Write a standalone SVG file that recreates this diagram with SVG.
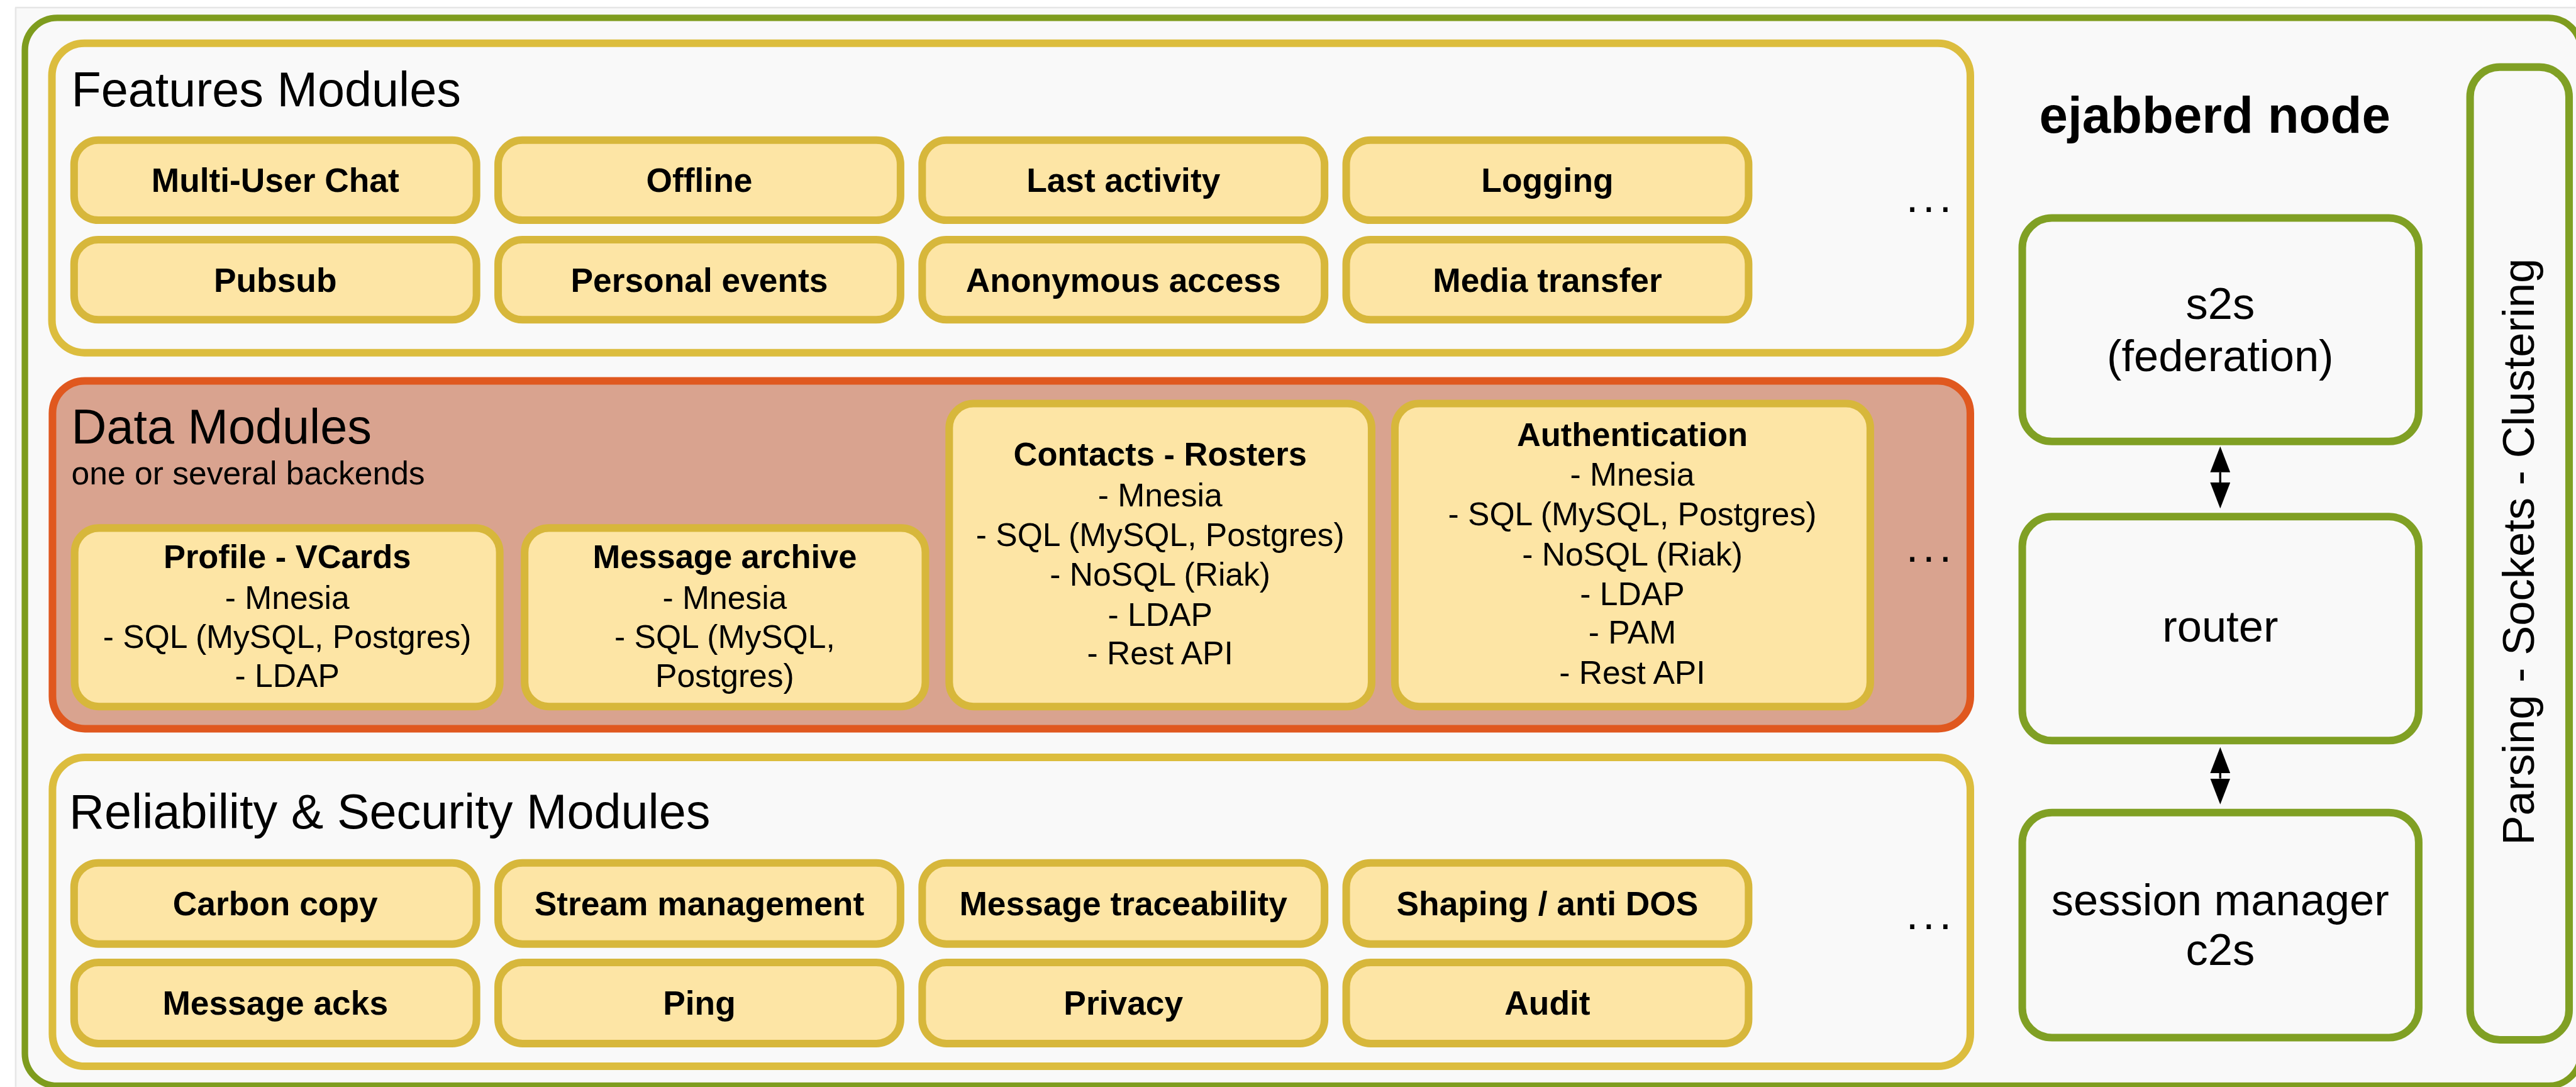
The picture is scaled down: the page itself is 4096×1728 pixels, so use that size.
<svg xmlns="http://www.w3.org/2000/svg" width="4096" height="1728" viewBox="0 0 4096 1728">
<style>
text{font-family:"Liberation Sans",Arial,Helvetica,sans-serif;fill:#000}
.title{font-size:90px}
.sub{font-size:60px}
.pilltxt{font-size:62px;font-weight:bold;text-anchor:middle}
.dtitle{font-size:61px;font-weight:bold;text-anchor:middle}
.ditem{font-size:60px;text-anchor:middle}
.rtxt{font-size:82px;text-anchor:middle}
.dots{font-size:82px;letter-spacing:8px}
.panel{fill:#f9f9f9;stroke:#dcbd3e;stroke-width:14}
.pill{fill:#fde5a5;stroke:#d7b73b;stroke-width:14}
.green{fill:#f9f9f9;stroke:#80a024;stroke-width:14}
.conn{stroke:#000;stroke-width:4;fill:none}
</style>
<defs>
<marker id="ah" viewBox="0 0 48 37" refX="0" refY="18.5" markerWidth="48" markerHeight="37" markerUnits="userSpaceOnUse" orient="auto-start-reverse">
<path d="M0,0 L48,18.5 L0,37 z" fill="#000"/>
</marker>
</defs>
<rect x="0" y="0" width="4096" height="1728" fill="#f9f9f9"/>
<g transform="scale(0.86)">
<rect x="0" y="0" width="4762" height="13" fill="#ffffff"/>
<line x1="0" y1="14" x2="4762" y2="14" stroke="#e6e6e6" stroke-width="3"/>
<rect x="0" y="0" width="28" height="2009" fill="#ffffff"/>
<line x1="29" y1="14" x2="29" y2="2009" stroke="#e6e6e6" stroke-width="3"/>

<g id="ejabberd-node">
<rect x="46" y="33" width="4726" height="1974" rx="60" fill="#f9f9f9" stroke="#7e9c1e" stroke-width="12"/>
<text x="4095" y="245" font-size="95" font-weight="bold" text-anchor="middle">ejabberd node</text>
</g>

<g id="features-modules">
<rect class="panel" x="96" y="80" width="3547" height="572" rx="60"/>
<text class="title" x="132" y="196">Features Modules</text>
<text class="dots" x="3524" y="392">...</text>
</g>
<g id="f-muc"><rect class="pill" x="137" y="259" width="744" height="148" rx="45"/><text class="pilltxt" x="509" y="355">Multi-User Chat</text></g>
<g id="f-offline"><rect class="pill" x="921" y="259" width="744" height="148" rx="45"/><text class="pilltxt" x="1293" y="355">Offline</text></g>
<g id="f-last"><rect class="pill" x="1705" y="259" width="744" height="148" rx="45"/><text class="pilltxt" x="2077" y="355">Last activity</text></g>
<g id="f-logging"><rect class="pill" x="2489" y="259" width="744" height="148" rx="45"/><text class="pilltxt" x="2861" y="355">Logging</text></g>
<g id="f-pubsub"><rect class="pill" x="137" y="443" width="744" height="148" rx="45"/><text class="pilltxt" x="509" y="539">Pubsub</text></g>
<g id="f-pep"><rect class="pill" x="921" y="443" width="744" height="148" rx="45"/><text class="pilltxt" x="1293" y="539">Personal events</text></g>
<g id="f-anon"><rect class="pill" x="1705" y="443" width="744" height="148" rx="45"/><text class="pilltxt" x="2077" y="539">Anonymous access</text></g>
<g id="f-media"><rect class="pill" x="2489" y="443" width="744" height="148" rx="45"/><text class="pilltxt" x="2861" y="539">Media transfer</text></g>

<g id="data-modules">
<rect x="97" y="704" width="3546" height="643" rx="60" fill="#d9a38f" stroke="#e0581f" stroke-width="14"/>
<text class="title" x="132" y="820">Data Modules</text>
<text class="sub" x="132" y="895">one or several backends</text>
<text class="dots" x="3524" y="1038">...</text>
</g>
<g id="d-vcard"><rect class="pill" x="138" y="976" width="786" height="330" rx="45"/>
<text class="dtitle" x="531" y="1050">Profile - VCards</text>
<text class="ditem" x="531" y="1125">- Mnesia</text>
<text class="ditem" x="531" y="1198">- SQL (MySQL, Postgres)</text>
<text class="ditem" x="531" y="1270">- LDAP</text></g>
<g id="d-archive"><rect class="pill" x="970" y="976" width="741" height="330" rx="45"/>
<text class="dtitle" x="1340" y="1050">Message archive</text>
<text class="ditem" x="1340" y="1125">- Mnesia</text>
<text class="ditem" x="1340" y="1198">- SQL (MySQL,</text>
<text class="ditem" x="1340" y="1270">Postgres)</text></g>
<g id="d-roster"><rect class="pill" x="1755" y="746" width="781" height="560" rx="45"/>
<text class="dtitle" x="2145" y="860">Contacts - Rosters</text>
<text class="ditem" x="2145" y="936">- Mnesia</text>
<text class="ditem" x="2145" y="1009">- SQL (MySQL, Postgres)</text>
<text class="ditem" x="2145" y="1083">- NoSQL (Riak)</text>
<text class="ditem" x="2145" y="1157">- LDAP</text>
<text class="ditem" x="2145" y="1228">- Rest API</text></g>
<g id="d-auth"><rect class="pill" x="2579" y="746" width="879" height="560" rx="45"/>
<text class="dtitle" x="3018" y="824">Authentication</text>
<text class="ditem" x="3018" y="898">- Mnesia</text>
<text class="ditem" x="3018" y="971">- SQL (MySQL, Postgres)</text>
<text class="ditem" x="3018" y="1045">- NoSQL (Riak)</text>
<text class="ditem" x="3018" y="1119">- LDAP</text>
<text class="ditem" x="3018" y="1190">- PAM</text>
<text class="ditem" x="3018" y="1264">- Rest API</text></g>

<g id="reliability-modules">
<rect class="panel" x="97" y="1400" width="3546" height="571" rx="60"/>
<text class="title" x="128" y="1531">Reliability &amp; Security Modules</text>
<text class="dots" x="3524" y="1717">...</text>
</g>
<g id="r-carbon"><rect class="pill" x="137" y="1595" width="744" height="150" rx="45"/><text class="pilltxt" x="509" y="1692">Carbon copy</text></g>
<g id="r-stream"><rect class="pill" x="921" y="1595" width="744" height="150" rx="45"/><text class="pilltxt" x="1293" y="1692">Stream management</text></g>
<g id="r-trace"><rect class="pill" x="1705" y="1595" width="744" height="150" rx="45"/><text class="pilltxt" x="2077" y="1692">Message traceability</text></g>
<g id="r-shaping"><rect class="pill" x="2489" y="1595" width="744" height="150" rx="45"/><text class="pilltxt" x="2861" y="1692">Shaping / anti DOS</text></g>
<g id="r-acks"><rect class="pill" x="137" y="1779" width="744" height="150" rx="45"/><text class="pilltxt" x="509" y="1876">Message acks</text></g>
<g id="r-ping"><rect class="pill" x="921" y="1779" width="744" height="150" rx="45"/><text class="pilltxt" x="1293" y="1876">Ping</text></g>
<g id="r-privacy"><rect class="pill" x="1705" y="1779" width="744" height="150" rx="45"/><text class="pilltxt" x="2077" y="1876">Privacy</text></g>
<g id="r-audit"><rect class="pill" x="2489" y="1779" width="744" height="150" rx="45"/><text class="pilltxt" x="2861" y="1876">Audit</text></g>

<g id="s2s"><rect class="green" x="3739" y="403" width="733" height="413" rx="55"/>
<text class="rtxt" x="4105" y="590">s2s</text>
<text class="rtxt" x="4105" y="686">(federation)</text></g>
<g id="router"><rect class="green" x="3739" y="955" width="733" height="414" rx="55"/>
<text class="rtxt" x="4105" y="1186">router</text></g>
<g id="session-manager"><rect class="green" x="3739" y="1502" width="733" height="416" rx="55"/>
<text class="rtxt" x="4105" y="1692">session manager</text>
<text class="rtxt" x="4105" y="1784">c2s</text></g>
<g id="parsing"><rect class="green" x="4567" y="124" width="183" height="1798" rx="55"/>
<text class="rtxt" transform="translate(4685,1020) rotate(-90)" x="0" y="0">Parsing - Sockets - Clustering</text></g>

<g id="connectors">
<line class="conn" x1="4105" y1="873" x2="4105" y2="892" marker-start="url(#ah)" marker-end="url(#ah)"/>
<line class="conn" x1="4105" y1="1429" x2="4105" y2="1439" marker-start="url(#ah)" marker-end="url(#ah)"/>
</g>
</g>
</svg>
